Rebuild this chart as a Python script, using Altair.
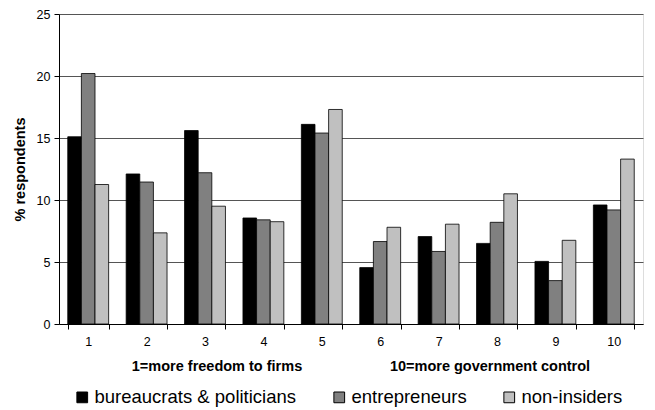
import altair as alt
import pandas as pd

categories = [str(i) for i in range(1, 11)]
series = ["bureaucrats & politicians", "entrepreneurs", "non-insiders"]
bureaucrats = [15.1, 12.1, 15.6, 8.55, 16.1, 4.55, 7.05, 6.5, 5.05, 9.6]
entrepreneurs = [20.2, 11.45, 12.2, 8.4, 15.4, 6.65, 5.85, 8.2, 3.5, 9.2]
non_insiders = [11.25, 7.35, 9.5, 8.25, 17.3, 7.8, 8.05, 10.5, 6.75, 13.3]
colors = ["#000000", "#808080", "#c0c0c0"]
left_note = "1=more freedom to firms"
right_note = "10=more government control"

rows = []
for s, vals in zip(series, [bureaucrats, entrepreneurs, non_insiders]):
    for c, v in zip(categories, vals):
        rows.append({"cat": c, "series": s, "value": v})
df = pd.DataFrame(rows)

FONT = "Liberation Sans"

bars = alt.Chart(df).mark_bar(stroke="#000000", strokeWidth=0.8).encode(
    x=alt.X("cat:O", sort=categories,
            scale=alt.Scale(paddingInner=0.3, paddingOuter=0.15),
            axis=alt.Axis(title=None, labelAngle=0, tickBand="extent",
                          grid=False, domainColor="#000000", tickColor="#000000",
                          tickSize=5, labelPadding=6, labelFontSize=12.5,
                          labelFont=FONT, labelColor="#000000")),
    xOffset=alt.XOffset("series:N", sort=series),
    y=alt.Y("value:Q", scale=alt.Scale(domain=[0, 25]),
            axis=alt.Axis(title="% respondents", values=[0, 5, 10, 15, 20, 25],
                          grid=True, gridColor="#555555", gridWidth=1,
                          domainColor="#000000", tickColor="#000000", tickSize=5,
                          labelFontSize=12.5, labelFont=FONT, labelColor="#000000",
                          labelPadding=4, titleFont=FONT, titleFontSize=14.5,
                          titleFontWeight="bold", titleColor="#000000",
                          titlePadding=9)),
    color=alt.Color("series:N", sort=series,
                    scale=alt.Scale(domain=series, range=colors),
                    legend=alt.Legend(title=None, orient="none", legendX=14, legendY=374,
                                      direction="horizontal", columns=3,
                                      symbolType="square", symbolSize=115,
                                      symbolStrokeColor="#000000", symbolStrokeWidth=1,
                                      labelFont=FONT, labelFontSize=18.5, labelLimit=0,
                                      labelColor="#000000", labelOffset=3,
                                      columnPadding=33)),
)

one = pd.DataFrame({"a": [0]})
note1 = alt.Chart(one).mark_text(font=FONT, fontSize=14.5, fontWeight="bold",
                                 color="#000000", align="center", baseline="middle").encode(
    x=alt.value(158), y=alt.value(353), text=alt.value(left_note))
note2 = alt.Chart(one).mark_text(font=FONT, fontSize=14.5, fontWeight="bold",
                                 color="#000000", align="center", baseline="middle").encode(
    x=alt.value(431), y=alt.value(353), text=alt.value(right_note))

chart = alt.layer(bars, note1, note2).properties(
    width=584, height=310,
    autosize=alt.AutoSizeParams(type="none"),
    padding={"left": 59, "top": 14, "right": 12, "bottom": 86},
).configure_view(stroke=None).configure(background="#ffffff")

chart.save("out.html", embed_options={"renderer": "svg", "actions": False})
